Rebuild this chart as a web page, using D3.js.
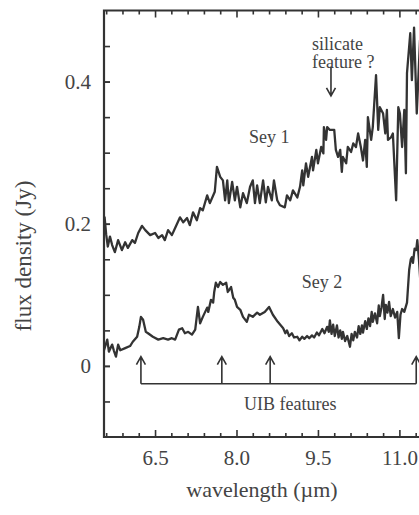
<!DOCTYPE html>
<html>
<head>
<meta charset="utf-8">
<script src="https://cdn.jsdelivr.net/npm/d3@7"></script>
<style>
  html, body { margin: 0; padding: 0; background: #fff; overflow: hidden; }
  svg { display: block; }
  text { font-family: "Liberation Serif", "Times New Roman", serif; fill: #444; }
</style>
</head>
<body>
<svg id="chart" width="419" height="515"></svg>
<script>
// ---- data ----
const sey1Wavelength = [5.57,5.60,5.63,5.67,5.71,5.76,5.82,5.89,5.95,6.00,6.08,6.13,6.19,6.26,6.32,6.41,6.50,6.56,6.63,6.68,6.74,6.81,6.87,6.96,7.02,7.09,7.14,7.20,7.27,7.33,7.38,7.46,7.51,7.60,7.64,7.70,7.75,7.79,7.83,7.86,7.92,7.97,8.01,8.07,8.12,8.19,8.25,8.30,8.34,8.38,8.43,8.49,8.54,8.58,8.65,8.69,8.75,8.80,8.89,8.93,8.99,9.04,9.12,9.17,9.21,9.23,9.28,9.32,9.39,9.41,9.47,9.50,9.56,9.60,9.61,9.65,9.67,9.72,9.80,9.83,9.87,9.91,9.94,9.96,10.02,10.05,10.11,10.15,10.20,10.24,10.29,10.33,10.37,10.40,10.42,10.48,10.51,10.57,10.61,10.64,10.70,10.74,10.77,10.79,10.85,10.88,10.94,10.98,11.01,11.05,11.09,11.12,11.14,11.20,11.23,11.27,11.32,11.38,11.44];
const sey1Flux = [0.210,0.185,0.168,0.182,0.170,0.160,0.177,0.163,0.174,0.166,0.177,0.173,0.187,0.197,0.191,0.184,0.187,0.180,0.184,0.177,0.191,0.184,0.194,0.209,0.202,0.208,0.198,0.216,0.205,0.222,0.219,0.240,0.229,0.245,0.280,0.266,0.261,0.233,0.261,0.229,0.259,0.233,0.252,0.223,0.243,0.229,0.252,0.261,0.229,0.254,0.229,0.261,0.230,0.252,0.233,0.261,0.233,0.226,0.223,0.240,0.233,0.247,0.237,0.252,0.275,0.254,0.285,0.266,0.294,0.275,0.304,0.285,0.308,0.299,0.336,0.318,0.336,0.332,0.332,0.304,0.294,0.304,0.273,0.294,0.285,0.308,0.301,0.313,0.308,0.327,0.308,0.289,0.318,0.280,0.350,0.318,0.336,0.409,0.332,0.364,0.355,0.327,0.360,0.318,0.322,0.327,0.233,0.364,0.355,0.308,0.360,0.271,0.412,0.468,0.402,0.476,0.355,0.458,0.390];

const sey2Wavelength = [5.56,5.62,5.65,5.71,5.74,5.78,5.82,5.86,5.95,6.04,6.09,6.17,6.21,6.24,6.28,6.33,6.37,6.46,6.56,6.65,6.74,6.81,6.87,6.94,7.00,7.05,7.11,7.18,7.24,7.29,7.33,7.38,7.46,7.48,7.53,7.57,7.59,7.62,7.66,7.70,7.75,7.81,7.84,7.90,7.94,7.97,8.01,8.07,8.12,8.19,8.23,8.30,8.38,8.43,8.52,8.60,8.67,8.76,8.86,8.90,8.93,8.97,9.02,9.06,9.12,9.16,9.21,9.25,9.30,9.34,9.39,9.43,9.48,9.52,9.58,9.62,9.67,9.70,9.72,9.75,9.78,9.81,9.85,9.88,9.91,9.94,9.96,10.00,10.04,10.09,10.12,10.15,10.18,10.22,10.25,10.28,10.31,10.33,10.37,10.40,10.43,10.46,10.49,10.51,10.55,10.59,10.62,10.64,10.67,10.70,10.73,10.75,10.78,10.81,10.84,10.88,10.92,10.96,10.99,11.02,11.05,11.09,11.14,11.18,11.21,11.23,11.25,11.28,11.31,11.33,11.36,11.41];
const sey2Flux = [0.022,0.037,0.020,0.030,0.022,0.013,0.030,0.022,0.025,0.028,0.034,0.041,0.055,0.069,0.065,0.048,0.046,0.041,0.037,0.039,0.037,0.039,0.037,0.051,0.053,0.046,0.048,0.044,0.051,0.083,0.060,0.069,0.082,0.076,0.093,0.089,0.104,0.117,0.111,0.118,0.114,0.117,0.104,0.111,0.096,0.093,0.083,0.079,0.069,0.062,0.072,0.069,0.075,0.072,0.076,0.083,0.072,0.062,0.053,0.046,0.050,0.042,0.046,0.040,0.041,0.036,0.041,0.038,0.042,0.039,0.043,0.040,0.047,0.043,0.052,0.046,0.055,0.048,0.064,0.045,0.058,0.042,0.057,0.040,0.050,0.038,0.048,0.035,0.042,0.027,0.045,0.036,0.048,0.040,0.056,0.045,0.057,0.047,0.063,0.052,0.067,0.056,0.076,0.062,0.074,0.060,0.085,0.070,0.082,0.100,0.066,0.086,0.075,0.090,0.070,0.080,0.068,0.076,0.039,0.072,0.080,0.076,0.089,0.135,0.150,0.153,0.145,0.165,0.163,0.177,0.150,0.090];

const uibFeatures = [6.24, 7.73, 8.62, 11.31];
const silicateFeature = 9.74;

const xMajorTicks = [6.5, 8.0, 9.5, 11.0];
const xTickLabels = ["6.5", "8.0", "9.5", "11.0"];
const yMajorTicks = [0, 0.2, 0.4];
const yTickLabels = ["0", "0.2", "0.4"];

const xDomain = [5.56, 11.6];
const yDomain = [-0.1, 0.5];

(function draw() {
  const svg = d3.select("#chart");
  const plotLeft = 104, plotTop = 10.5, plotBottom = 437;
  const pxPerMicron = 54.3;
  const x = d3.scaleLinear().domain(xDomain).range([plotLeft, plotLeft + (xDomain[1] - xDomain[0]) * pxPerMicron]);
  const y = d3.scaleLinear().domain(yDomain).range([plotBottom, plotTop]);
  const ink = "#333";

  const isMajor = v => xMajorTicks.some(m => Math.abs(m - v) < 1e-6);
  const xMinor = d3.range(0, 21).map(i => +(5.6 + i * 0.3).toFixed(2)).filter(v => v <= xDomain[1] && !isMajor(v));
  const yMinor = d3.range(-1, 10).map(i => +(i * 0.05).toFixed(2)).filter(v => v > yDomain[0] && v < yDomain[1]);

  // bottom axis (ticks inward)
  const gb = svg.append("g").attr("transform", `translate(0,${plotBottom})`);
  gb.call(d3.axisBottom(x).tickValues(xMinor).tickSize(-4).tickFormat(""));
  gb.select(".domain").remove();
  const gbm = svg.append("g").attr("transform", `translate(0,${plotBottom})`);
  gbm.call(d3.axisBottom(x).tickValues(xMajorTicks).tickSize(-7).tickPadding(13)
    .tickFormat((d, i) => xTickLabels[i]));
  gbm.select(".domain").remove();

  // top axis (ticks inward)
  const gt = svg.append("g").attr("transform", `translate(0,${plotTop})`);
  gt.call(d3.axisTop(x).tickValues(xMinor).tickSize(-4).tickFormat(""));
  gt.select(".domain").remove();
  const gtm = svg.append("g").attr("transform", `translate(0,${plotTop})`);
  gtm.call(d3.axisTop(x).tickValues(xMajorTicks).tickSize(-7).tickFormat(""));
  gtm.select(".domain").remove();

  // left axis (ticks inward)
  const gl = svg.append("g").attr("transform", `translate(${plotLeft},0)`);
  gl.call(d3.axisLeft(y).tickValues(yMinor).tickSize(-6).tickFormat(""));
  gl.select(".domain").remove();
  const glm = svg.append("g").attr("transform", `translate(${plotLeft},0)`);
  glm.call(d3.axisLeft(y).tickValues(yMajorTicks).tickSize(-6).tickPadding(13)
    .tickFormat((d, i) => yTickLabels[i]));
  glm.select(".domain").remove();

  svg.selectAll(".tick line").attr("stroke", ink).attr("stroke-width", 1.6);
  svg.selectAll(".tick text").attr("font-family", "Liberation Serif").attr("font-size", 21).attr("fill", "#444");

  // frame
  const xr = x.range()[1];
  svg.append("path")
    .attr("d", `M${xr},${plotTop}H${plotLeft}V${plotBottom}H${xr}`)
    .attr("fill", "none").attr("stroke", ink).attr("stroke-width", 2.2);

  // spectra
  const line = d3.line().x(d => x(d[0])).y(d => y(d[1]));
  svg.append("path")
    .attr("d", line(sey1Wavelength.map((w, i) => [w, sey1Flux[i]])))
    .attr("fill", "none").attr("stroke", ink).attr("stroke-width", 2.3).attr("stroke-linejoin", "round");
  svg.append("path")
    .attr("d", line(sey2Wavelength.map((w, i) => [w, sey2Flux[i]])))
    .attr("fill", "none").attr("stroke", ink).attr("stroke-width", 2.3).attr("stroke-linejoin", "round");

  // annotations
  function label(t, wx, wy, size, anchor) {
    svg.append("text").attr("x", x(wx)).attr("y", y(wy))
      .attr("font-size", size).attr("text-anchor", anchor || "start").text(t);
  }
  label("Sey 1", 8.23, 0.314, 18);
  label("Sey 2", 9.20, 0.110, 18);
  label("silicate", 9.39, 0.445, 18);
  label("feature ?", 9.39, 0.419, 18);
  label("UIB features", 8.99, -0.062, 18, "middle");

  // silicate arrow (downward)
  const ax = x(silicateFeature), ay0 = y(0.421), ay1 = y(0.38);
  svg.append("path")
    .attr("d", `M${ax},${ay0}V${ay1}M${ax - 4.5},${ay1 - 8}L${ax},${ay1}L${ax + 4.5},${ay1 - 8}`)
    .attr("fill", "none").attr("stroke", ink).attr("stroke-width", 1.6);

  // UIB bracket and arrows (upward)
  const by = y(-0.025), bt = y(0.013);
  svg.append("path")
    .attr("d", `M${x(uibFeatures[0])},${by}H${x(uibFeatures[uibFeatures.length - 1])}`)
    .attr("fill", "none").attr("stroke", ink).attr("stroke-width", 1.6);
  svg.selectAll(".uib").data(uibFeatures).enter().append("path").attr("class", "uib")
    .attr("d", d => `M${x(d)},${by}V${bt}M${x(d) - 4.5},${bt + 8}L${x(d)},${bt}L${x(d) + 4.5},${bt + 8}`)
    .attr("fill", "none").attr("stroke", ink).attr("stroke-width", 1.6);

  // axis titles
  svg.append("text").attr("x", 262).attr("y", 497).attr("text-anchor", "middle")
    .attr("font-size", 22).text("wavelength (\u00b5m)");
  svg.append("text").attr("transform", "translate(31,256) rotate(-90)").attr("text-anchor", "middle")
    .attr("font-size", 23).text("flux density (Jy)");
})();
</script>
</body>
</html>
